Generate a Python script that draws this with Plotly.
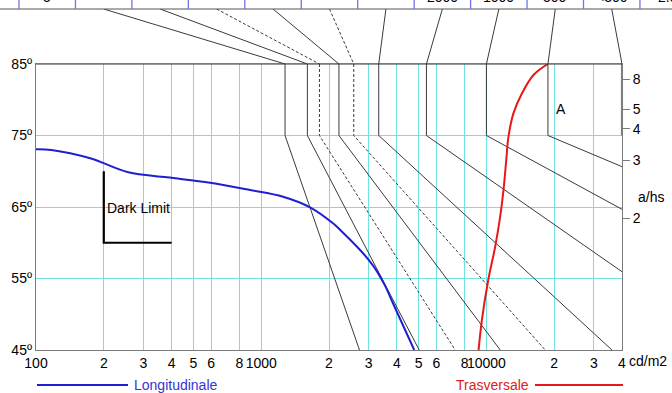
import numpy as np
import plotly.graph_objects as go

# ---- axis definitions -------------------------------------------------------
L_MIN, L_MAX = 100, 40000          # luminance, cd/m2 (log axis)
ANG_MIN, ANG_MAX = 45, 85          # viewing angle, degrees

x_tickvals = [100, 200, 300, 400, 500, 600, 800, 1000, 2000, 3000, 4000,
              5000, 6000, 8000, 10000, 20000, 30000, 40000]
x_ticktext = ["100", "2", "3", "4", "5", "6", "8", "1000", "2", "3", "4",
              "5", "6", "8", "10000", "2", "3", "4"]
y_tickvals = [45, 55, 65, 75, 85]
y_ticktext = ["45º", "55º", "65º", "75º", "85º"]
ahs_values = [2, 3, 4, 5, 8]       # a/hs scale, a/hs = tan(angle)

# ---- luminance curves -------------------------------------------------------
long_L = [100, 117, 174, 257, 381, 593, 893, 1250, 1648, 2084, 2244, 2748,
          3000, 3266, 3560, 3864, 4780]
long_ang = [73.07, 72.97, 71.81, 69.85, 69.15, 68.40, 67.38, 66.44, 64.96,
            62.72, 61.78, 58.99, 57.6, 56.0, 53.9, 51.4, 45.0]

trans_L = [18750, 16180, 14390, 13180, 12530, 12250, 11910, 11510, 10940,
           10190, 9550, 9230]
trans_ang = [85.0, 83.46, 80.90, 78.10, 74.83, 71.57, 67.38, 63.64, 59.45,
             54.79, 49.20, 45.0]

# ---- glare limit lines: vertical 85°-75°, then straight to the end point ----
limit_L85 = [1276, 1603, 1814, 2214, 2576, 3325, 5416, 10000, 18760, 40000]
limit_end_L = [2731, 5030, 7266, 11515, 18250, 36100, 40000, 40000, 40000, None]
limit_end_ang = [45, 45, 45, 45, 45, 45, 55.95, 64.68, 70.64, None]

# ---- header table row -------------------------------------------------------
table_labels = ["5", "", "", "", "", "", "", "2000", "1000", "500", "<300", "2.5"]

# dark limit marker
dark_L = [200, 200, 400]
dark_ang = [70, 60, 60]

# ---- styles -----------------------------------------------------------------
LIMIT_DASHED = {2, 4}              # indices of the dotted limit lines
LINE_COL = "#3a3a3a"
GRID_COL = "#6fe2e2"
AXIS_COL = "#7a7a7a"
BLUE = "#1e1ed2"
RED = "#e81818"
FONT = "Liberation Sans, Arial, sans-serif"

# ---- page geometry ----------------------------------------------------------
W, H = 672, 393
M_L, M_R, M_T, M_B = 36, 50, 0, 43
PLOT_W = W - M_L - M_R
PLOT_H = H - M_T - M_B


def paper_x(px):
    return (px - M_L) / PLOT_W


def paper_y(py):
    return (H - M_B - py) / PLOT_H


MAIN_TOP = 64          # row of the 85° border
TABLE_BOTTOM = 9       # row of the table's lower rule
TABLE_X0, COL_W = 19, 56.45

main_domain = [0, paper_y(MAIN_TOP)]
link_domain = [paper_y(MAIN_TOP), paper_y(TABLE_BOTTOM)]

LG0, LG1 = np.log10(L_MIN), np.log10(L_MAX)


def col_center_L(k):
    px = TABLE_X0 + COL_W * (k + 0.5)
    return 10 ** (LG0 + paper_x(px) * (LG1 - LG0))


def limit_line_style(i):
    if limit_end_L[i] is None:      # limit along the right-hand border
        return dict(color="#808080", width=2.2)
    return dict(color=LINE_COL, width=1,
                dash="3px,2px" if i in LIMIT_DASHED else "solid")


fig = go.Figure()

# glare limit lines inside the chart
for i, (L85, Le, ae) in enumerate(zip(limit_L85, limit_end_L, limit_end_ang)):
    xs, ys = [L85, L85], [85, 75]
    if Le is not None:
        xs.append(Le)
        ys.append(ae)
    fig.add_trace(go.Scatter(x=xs, y=ys, mode="lines", xaxis="x", yaxis="y",
                             line=limit_line_style(i),
                             hoverinfo="skip", showlegend=False))

# links from the table columns down to the chart
for i, L85 in enumerate(limit_L85):
    fig.add_trace(go.Scatter(
        x=[col_center_L(i + 1), L85], y=[1, 0], mode="lines",
        xaxis="x3", yaxis="y3",
        line=dict(color=LINE_COL, width=1,
                  dash="3px,2px" if i in LIMIT_DASHED else "solid"),
        hoverinfo="skip", showlegend=False))

# dark limit
fig.add_trace(go.Scatter(x=dark_L, y=dark_ang, mode="lines",
                         line=dict(color="black", width=2.2),
                         hoverinfo="skip", showlegend=False))

# longitudinal and transversal luminance curves
fig.add_trace(go.Scatter(x=long_L, y=long_ang, mode="lines",
                         line=dict(color=BLUE, width=2, shape="spline", smoothing=1.0),
                         name="Longitudinale", showlegend=False))
fig.add_trace(go.Scatter(x=trans_L, y=trans_ang, mode="lines",
                         line=dict(color=RED, width=2, shape="spline", smoothing=1.0),
                         name="Trasversale", showlegend=False))

# carrier for the a/hs scale
fig.add_trace(go.Scatter(x=[L_MIN], y=[ANG_MIN], mode="markers", yaxis="y2",
                         marker=dict(opacity=0), hoverinfo="skip", showlegend=False))

shapes = []
# darker top border of the chart
shapes.append(dict(type="line", xref="x domain", yref="y", x0=0, x1=1, y0=85, y1=85,
                   line=dict(color="#333333", width=1)))
# table lower rule and column separators
shapes.append(dict(type="line", xref="paper", yref="paper",
                   x0=paper_x(0), x1=paper_x(W), y0=paper_y(TABLE_BOTTOM), y1=paper_y(TABLE_BOTTOM),
                   line=dict(color="#555555", width=1)))
for k in range(len(table_labels)):
    xp = paper_x(TABLE_X0 + COL_W * k)
    shapes.append(dict(type="line", xref="paper", yref="paper",
                       x0=xp, x1=xp, y0=paper_y(TABLE_BOTTOM), y1=paper_y(-3),
                       line=dict(color="#7373e6", width=1.3)))
# legend samples
shapes.append(dict(type="line", xref="paper", yref="paper",
                   x0=paper_x(37), x1=paper_x(128), y0=paper_y(385), y1=paper_y(385),
                   line=dict(color=BLUE, width=2)))
shapes.append(dict(type="line", xref="paper", yref="paper",
                   x0=paper_x(535), x1=paper_x(623), y0=paper_y(385), y1=paper_y(385),
                   line=dict(color=RED, width=2)))

annotations = []
for k, txt in enumerate(table_labels):
    if txt:
        annotations.append(dict(text=txt, xref="paper", yref="paper",
                                x=paper_x(TABLE_X0 + COL_W * (k + 0.5)), y=paper_y(-3),
                                xanchor="center", yanchor="middle", showarrow=False,
                                font=dict(size=14, color="black")))
annotations += [
    dict(text="cd/m2", xref="paper", yref="paper", x=1, y=0, xshift=5, yshift=-11,
         xanchor="left", yanchor="middle", showarrow=False,
         font=dict(size=14, color="black")),
    dict(text="a/hs", xref="paper", yref="y", x=1, xshift=14, y=66.4,
         xanchor="left", yanchor="middle", showarrow=False,
         font=dict(size=14, color="black")),
    dict(text="A", xref="x", yref="y", x=np.log10(21380), y=78.7,
         xanchor="center", yanchor="middle", showarrow=False,
         font=dict(size=14, color="black")),
    dict(text="Dark Limit", xref="x", yref="y", x=np.log10(203), y=64.9,
         xanchor="left", yanchor="middle", showarrow=False,
         font=dict(size=14, color="black")),
    dict(text="Longitudinale", xref="paper", yref="paper", x=paper_x(132), y=paper_y(385),
         xanchor="left", yanchor="middle", showarrow=False,
         font=dict(size=14, color="#3434d4")),
    dict(text="Trasversale", xref="paper", yref="paper", x=paper_x(531), y=paper_y(385),
         xanchor="right", yanchor="middle", showarrow=False,
         font=dict(size=14, color="#e02020")),
]

fig.update_layout(
    width=W, height=H,
    margin=dict(l=M_L, r=M_R, t=M_T, b=M_B, pad=0, autoexpand=False),
    paper_bgcolor="white", plot_bgcolor="white",
    font=dict(family=FONT, size=14, color="black"),
    showlegend=False,
    xaxis=dict(type="log", range=[LG0, LG1], domain=[0, 1], anchor="y",
               tickmode="array", tickvals=x_tickvals, ticktext=x_ticktext, tickangle=0,
               showgrid=True, gridcolor=GRID_COL, gridwidth=1.3,
               showline=True, linecolor=AXIS_COL, linewidth=1.3, mirror=True,
               ticks="", zeroline=False, tickfont=dict(size=14, color="black")),
    yaxis=dict(range=[ANG_MIN, ANG_MAX], domain=main_domain, anchor="x",
               tickmode="array", tickvals=y_tickvals, ticktext=y_ticktext,
               showgrid=True, gridcolor=GRID_COL, gridwidth=1.3,
               showline=True, linecolor=AXIS_COL, linewidth=1.3, mirror=True,
               ticks="", zeroline=False, tickfont=dict(size=14, color="black")),
    yaxis2=dict(range=[ANG_MIN, ANG_MAX], overlaying="y", side="right", anchor="x",
                tickmode="array",
                tickvals=list(np.degrees(np.arctan(ahs_values))),
                ticktext=[str(v) for v in ahs_values],
                ticks="outside", ticklen=7, tickcolor=AXIS_COL, tickwidth=1.3,
                showgrid=False, showline=False, zeroline=False,
                tickfont=dict(size=14, color="black")),
    xaxis3=dict(type="log", range=[LG0, LG1], domain=[0, 1], anchor="y3", visible=False),
    yaxis3=dict(range=[0, 1], domain=link_domain, anchor="x3", visible=False),
    shapes=shapes,
    annotations=annotations,
)

fig.write_html("out.html")
